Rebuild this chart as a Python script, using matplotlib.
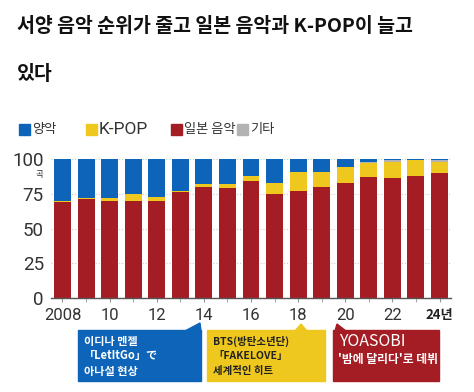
import numpy as np
import matplotlib.pyplot as plt
from matplotlib.patches import Rectangle, Polygon

plt.rcParams['font.family'] = ['Noto Sans CJK KR', 'DejaVu Sans']

# Data (songs out of top 100)
years = list(range(2008, 2025))
japan = [69, 71, 70, 70, 70, 76, 80, 79, 84, 75, 77, 80, 83, 87, 86, 88, 90]
kpop = [1, 1, 2, 5, 3, 1, 2, 3, 4, 8, 14, 11, 11, 10, 12, 11, 8]
other = [0, 0, 0, 0, 0, 0, 0, 0, 0, 0, 0, 0, 0, 1, 1, 0, 1]
western = [100 - j - k - o for j, k, o in zip(japan, kpop, other)]

tick_years = [2008, 2010, 2012, 2014, 2016, 2018, 2020, 2022, 2024]
tick_labels = ['2008', '10', '12', '14', '16', '18', '20', '22', '24년']

C_BLUE = '#0d64b8'
C_YEL = '#eec81f'
C_RED = '#a51d24'
C_GRAY = '#b3b3b3'

W, H = 474, 392
fig = plt.figure(figsize=(W / 100, H / 100), dpi=100)


def fx(x):
    return x / W


def fy(y):
    return 1 - y / H


ax = fig.add_axes([fx(50.7), fy(298), fx(451.3) - fx(50.7), fy(159) - fy(298)])

x = np.arange(len(years))
bw = 0.72
ax.bar(x, japan, bw, color=C_RED, zorder=2)
b1 = np.array(japan)
ax.bar(x, kpop, bw, bottom=b1, color=C_YEL, zorder=2)
b2 = b1 + np.array(kpop)
ax.bar(x, other, bw, bottom=b2, color=C_GRAY, zorder=2)
b3 = b2 + np.array(other)
ax.bar(x, western, bw, bottom=b3, color=C_BLUE, zorder=2)

ax.set_xlim(-0.5, len(years) - 0.5)
ax.set_ylim(0, 100)
for s in ['top', 'right', 'left']:
    ax.spines[s].set_visible(False)
ax.spines['bottom'].set_color('#555555')
ax.spines['bottom'].set_linewidth(1.0)
ax.set_yticks([0, 25, 50, 75, 100])
ax.set_yticklabels(['0', '25', '50', '75', '100'], family=['Roboto', 'DejaVu Sans'],
                   fontsize=13.5, color='#333333')
ax.tick_params(axis='y', length=0, pad=5)
ax.yaxis.grid(True, linestyle=':', color='#cccccc', linewidth=0.8, zorder=0)
ax.set_axisbelow(True)

ax.set_xticks([years.index(y) for y in tick_years])
ax.set_xticklabels(tick_labels, family=['Roboto', 'Noto Sans CJK KR'], fontsize=12,
                   color='#333333')
ax.set_xticks(x, minor=True)
ax.tick_params(axis='x', which='both', length=3, color='#999999', pad=4)
last = ax.get_xticklabels()[-1]
last.set_fontweight('bold')
last.set_fontsize(9.5)
last.set_family(['Noto Sans CJK KR'])
last.set_color('#222222')

fig.text(fx(39), fy(175), '곡', fontsize=6, ha='center', va='center', color='#333333')

# Title
fig.text(fx(17), fy(27), '서양 음악 순위가 줄고 일본 음악과 K-POP이 늘고',
         fontsize=14, fontweight='bold', va='center', ha='left', color='#111111')
fig.text(fx(17), fy(75), '있다', fontsize=14, fontweight='bold', va='center',
         ha='left', color='#111111')

# Legend
legend_items = [('양악', C_BLUE, 19), ('K-POP', C_YEL, 86), ('일본 음악', C_RED, 171),
                ('기타', C_GRAY, 237)]
for lab, col, lx in legend_items:
    fig.patches.append(Rectangle((fx(lx), fy(135)), fx(11), fy(124) - fy(135),
                                 transform=fig.transFigure, color=col))
    if lab == 'K-POP':
        fig.text(fx(lx + 13), fy(129.5), lab, fontsize=12.5, family=['Roboto'],
                 va='center', ha='left', color='#333333')
    else:
        fig.text(fx(lx + 13), fy(129.5), lab, fontsize=9.5,
                 va='center', ha='left', color='#333333')


# Annotation boxes
def callout(x0, x1, y0, y1, tri, col):
    fig.patches.append(Rectangle((fx(x0), fy(y1)), fx(x1 - x0), fy(y0) - fy(y1),
                                 transform=fig.transFigure, color=col))
    fig.patches.append(Polygon([(fx(a), fy(b)) for a, b in tri], closed=True,
                               transform=fig.transFigure, color=col))


callout(78, 201, 330, 381, [(185, 331), (201, 331), (200, 323)], C_BLUE)
callout(207, 325, 330, 381, [(295, 331), (307, 331), (301, 324)], C_YEL)
callout(333, 439, 330, 381, [(335, 331), (346, 331), (337, 324)], C_RED)

for i, t in enumerate(['이디나 멘젤', '「LetItGo」で', '아나설 현상']):
    fig.text(fx(84), fy(341 + i * 15), t, fontsize=8, fontweight='bold', color='white',
             va='center', ha='left')
for i, t in enumerate(['BTS(방탄소년단)', '「FAKELOVE」', '세계적인 히트']):
    fig.text(fx(213), fy(341 + i * 15), t, fontsize=7.5, fontweight='bold',
             color='#222222', va='center', ha='left')
fig.text(fx(339), fy(342), 'YOASOBI', fontsize=11.5, color='white', va='center', ha='left')
fig.text(fx(338), fy(360), "'밤에 달리다'로 데뷔", fontsize=8.5, fontweight='bold',
         color='white', va='center', ha='left')

fig.savefig('out.png', dpi=100)
